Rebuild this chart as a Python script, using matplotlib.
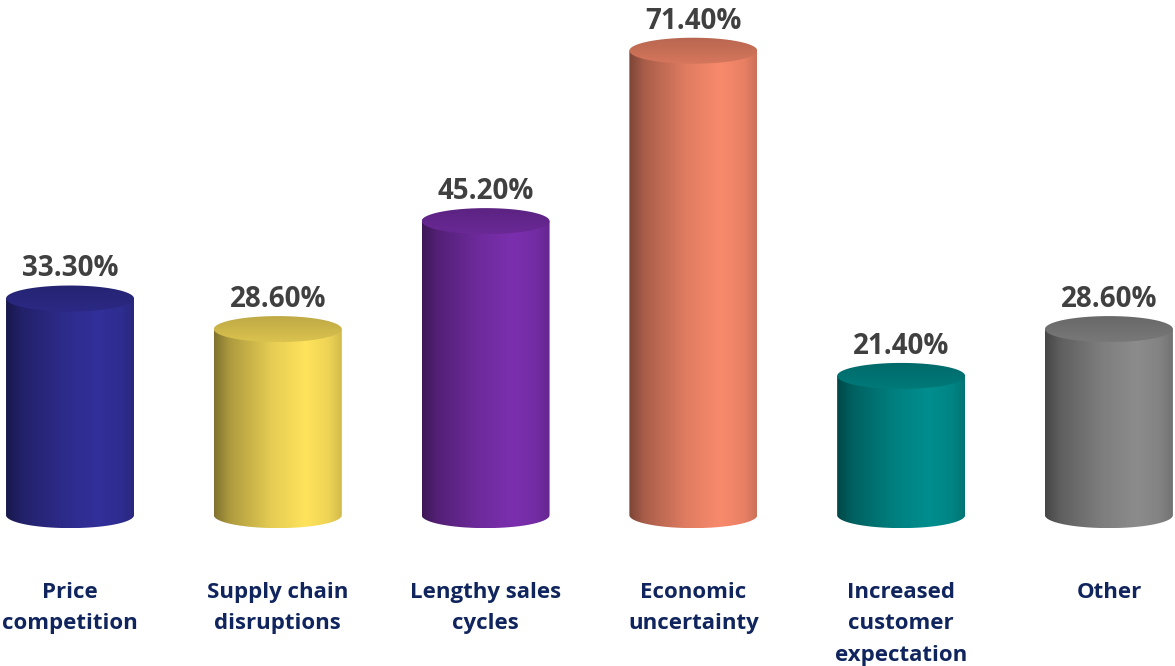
import numpy as np
import matplotlib.pyplot as plt
from matplotlib.path import Path
from matplotlib.patches import PathPatch
from matplotlib.colors import to_rgb

categories = ['Price\ncompetition', 'Supply chain\ndisruptions', 'Lengthy sales\ncycles',
              'Economic\nuncertainty', 'Increased\ncustomer\nexpectation', 'Other']
values = [33.3, 28.6, 45.2, 71.4, 21.4, 28.6]
value_labels = ['33.30%', '28.60%', '45.20%', '71.40%', '21.40%', '28.60%']
colors = ['#32309a', '#ffe35c', '#7b2fae', '#f98a6c', '#008e8e', '#8c8c8c']

plt.rcParams['font.family'] = ['Open Sans', 'DejaVu Sans']

fig = plt.figure(figsize=(11.75, 6.66), dpi=100)
ax = fig.add_axes([0, 0, 1, 1])
ax.set_xlim(-0.337, 5.318)
ax.set_ylim(-23.2, 79.2)
ax.axis('off')

half_w = 0.308   # cylinder half width (x units)
ell_h = 2.0      # ellipse half height (y units)


def shade(t):
    # horizontal lighting profile across the cylinder
    return np.interp(t, [0, 0.12, 0.45, 0.72, 0.9, 1.0], [0.5, 0.68, 0.9, 1.0, 0.93, 0.82])


for i, (v, c) in enumerate(zip(values, colors)):
    base = np.array(to_rgb(c))
    x0, x1 = i - half_w, i + half_w

    # body: sides + bottom half ellipse
    th = np.linspace(np.pi, 2 * np.pi, 60)
    bx = i + half_w * np.cos(th)
    by = ell_h * np.sin(th)
    verts = [(x0, v)] + list(zip(bx, by)) + [(x1, v), (x0, v)]
    body = PathPatch(Path(verts, closed=True), facecolor='none', edgecolor='none')
    ax.add_patch(body)
    t = np.linspace(0, 1, 200)
    grad = np.clip(base[None, None, :] * shade(t)[None, :, None], 0, 1)
    im = ax.imshow(grad, extent=(x0, x1, -ell_h, v), aspect='auto',
                   interpolation='bilinear', zorder=2)
    im.set_clip_path(body)

    # top ellipse
    th2 = np.linspace(0, 2 * np.pi, 120)
    tx = i + half_w * np.cos(th2)
    ty = v + ell_h * np.sin(th2)
    top = PathPatch(Path(list(zip(tx, ty)), closed=True), facecolor='none', edgecolor='none')
    ax.add_patch(top)
    tv = np.linspace(0, 1, 100)
    tgrad = np.clip(base[None, None, :] * np.interp(tv, [0, 1], [0.86, 0.74])[:, None, None]
                    * np.ones((1, 50, 1)), 0, 1)
    im2 = ax.imshow(tgrad, extent=(x0, x1, v - ell_h, v + ell_h), aspect='auto',
                    interpolation='bilinear', zorder=3, origin='lower')
    im2.set_clip_path(top)

    ax.text(i, v + 3.4, value_labels[i], ha='center', va='baseline', fontsize=20,
            fontweight='bold', color='#404040', zorder=4)
    ax.text(i, -10.3, categories[i], ha='center', va='top', fontsize=16,
            fontweight='bold', color='#10255e', linespacing=1.64, zorder=4)

fig.savefig('out.png', dpi=100)
